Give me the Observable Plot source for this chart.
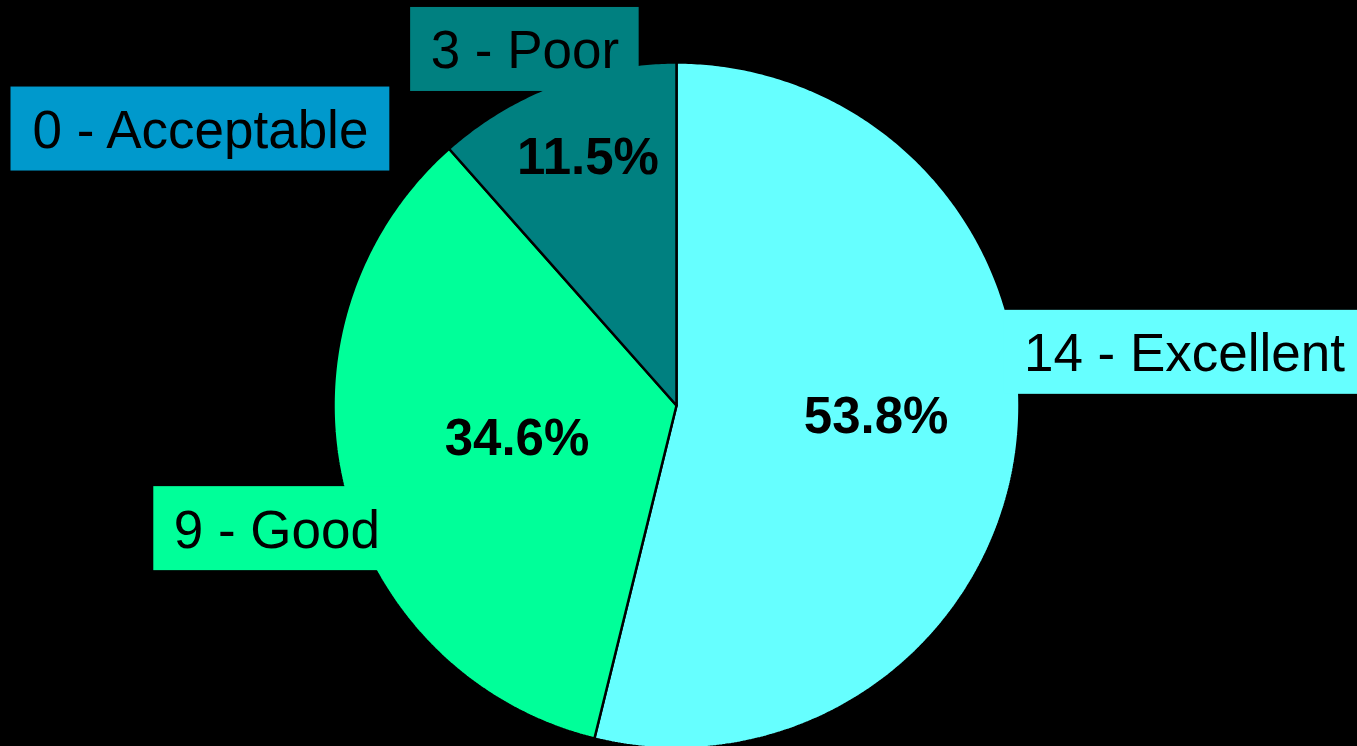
<!DOCTYPE html>
<html><head><meta charset="utf-8">
<script src="https://cdn.jsdelivr.net/npm/d3@7"></script>
<script src="https://cdn.jsdelivr.net/npm/@observablehq/plot@0.6"></script>
<style>html,body{margin:0;padding:0;background:#000;overflow:hidden}</style>
</head><body><div id="chart"></div>
<script>
// ---- data ----
const categories = ["Excellent", "Good", "Acceptable", "Poor"];
const counts = [14, 9, 0, 3];
const colors = ["#66FFFF", "#00FF99", "#0099CC", "#008080"];

// ---- layout (data units, pie radius = 1) ----
const labelAt = [[1.481, 0.155], [-1.165, -0.359], [-1.388, 0.806], [-0.442, 1.038]];
const pctAt = [[0.582, -0.026], [-0.465, -0.092], [0, 0], [-0.258, 0.729]];
const R = 343, CX = 676, CY = 405;
const FONT = "'Liberation Sans', Arial, sans-serif";
const labelSize = 53, pctSize = 51, padX = 20, boxHalfH = 42;

const rows = categories.map((c, i) => ({cat: c, count: counts[i], i}));
const total = d3.sum(counts);
const arcs = d3.pie().sort(null).value(d => d.count)(rows);

// slice polygons
const poly = [];
for (const a of arcs) {
  if (a.endAngle - a.startAngle <= 0) continue;
  const n = Math.max(2, Math.ceil((a.endAngle - a.startAngle) / (2 * Math.PI) * 720));
  poly.push({cat: a.data.cat, x: 0, y: 0});
  for (let k = 0; k <= n; k++) {
    const t = a.startAngle + (a.endAngle - a.startAngle) * k / n;
    poly.push({cat: a.data.cat, x: Math.sin(t), y: Math.cos(t)});
  }
  poly.push({cat: a.data.cat, x: 0, y: 0});
}

// label boxes
const ctx = document.createElement("canvas").getContext("2d");
ctx.font = `${labelSize}px ${FONT}`;
const labels = rows.map(r => {
  const text = `${r.count} - ${r.cat}`;
  const w = ctx.measureText(text).width;
  const [x, y] = labelAt[r.i];
  const hw = (w / 2 + padX) / R, hh = boxHalfH / R;
  return {cat: r.cat, text, x, y, x1: x - hw, x2: x + hw, y1: y - hh, y2: y + hh};
});
const pcts = rows.filter(r => r.count > 0).map(r => ({
  cat: r.cat, text: (r.count / total * 100).toFixed(1) + "%",
  x: pctAt[r.i][0], y: pctAt[r.i][1]
}));

const chart = Plot.plot({
  width: 1357, height: 746,
  margin: 0,
  style: {background: "#000", fontFamily: FONT},
  x: {domain: [-1, 1], range: [CX - R, CX + R], axis: null},
  y: {domain: [-1, 1], range: [CY + R, CY - R], axis: null},
  color: {domain: categories, range: colors},
  marks: [
    Plot.line(poly, {x: "x", y: "y", z: "cat", fill: "cat", stroke: "#000", strokeWidth: 2.5, curve: "linear", strokeLinejoin: "miter"}),
    Plot.rect(labels, {x1: "x1", x2: "x2", y1: "y1", y2: "y2", fill: "cat"}),
    Plot.text(labels, {x: "x", y: "y", text: "text", fill: "#000", fontSize: labelSize, dy: 2}),
    Plot.text(pcts, {x: "x", y: "y", text: "text", fill: "#000", fontSize: pctSize, fontWeight: "bold", dy: 2})
  ]
});
document.getElementById("chart").append(chart);
</script>
</body></html>
